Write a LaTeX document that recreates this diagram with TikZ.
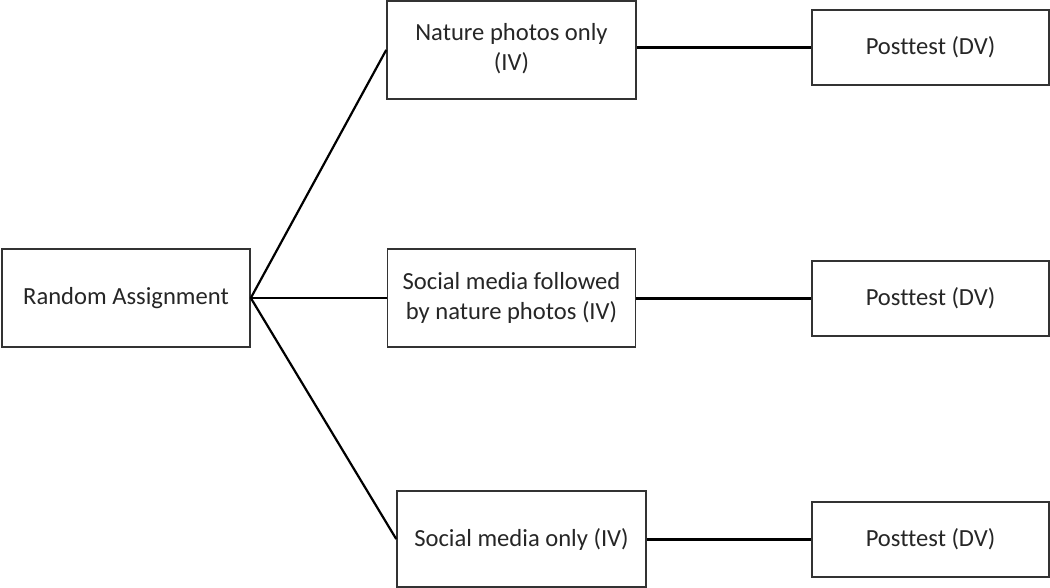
\documentclass[tikz,border=0pt]{standalone}
\usepackage{fontspec}
\setmainfont{Carlito}[Ligatures=NoCommon]
\begin{document}
\begin{tikzpicture}[x=1pt,y=-1pt,
  box/.style={draw=black!80, line width=1.6pt, fill=white, inner sep=0pt, align=center,
    font=\fontsize{24.6}{30}\selectfont, text=black!85},
  conn/.style={draw=black, line width=2.2pt}]
\useasboundingbox (0,0) rectangle (1050,588);
\node[box, minimum width=248pt, minimum height=98pt] (ra) at (126,298) {Random Assignment};
\node[box, minimum width=249pt, minimum height=98pt] (iv1) at (511.5,50) {\raisebox{-2pt}{\begin{tabular}{@{}c@{}}Nature photos only\\[0pt](IV)\end{tabular}}};
\node[box, minimum width=248pt, minimum height=98pt] (iv2) at (511.5,298) {Social media followed\\by nature photos (IV)};
\node[box, minimum width=249pt, minimum height=96pt] (iv3) at (521.5,539) {Social media only (IV)};
\node[box, minimum width=237pt, minimum height=75pt] (p1) at (930.5,47.5) {Posttest (DV)};
\node[box, minimum width=237pt, minimum height=75pt] (p2) at (930.5,298.5) {Posttest (DV)};
\node[box, minimum width=237pt, minimum height=75pt] (p3) at (930.5,539.5) {Posttest (DV)};
\draw[conn] (ra.east) -- (iv1.west);
\draw[conn] (ra.east) -- (iv2.west);
\draw[conn] (ra.east) -- (iv3.west);
\draw[conn] (iv1.east |- p1.west) -- (p1.west);
\draw[conn] (iv2.east |- p2.west) -- (p2.west);
\draw[conn] (iv3.east |- p3.west) -- (p3.west);
\end{tikzpicture}
\end{document}
